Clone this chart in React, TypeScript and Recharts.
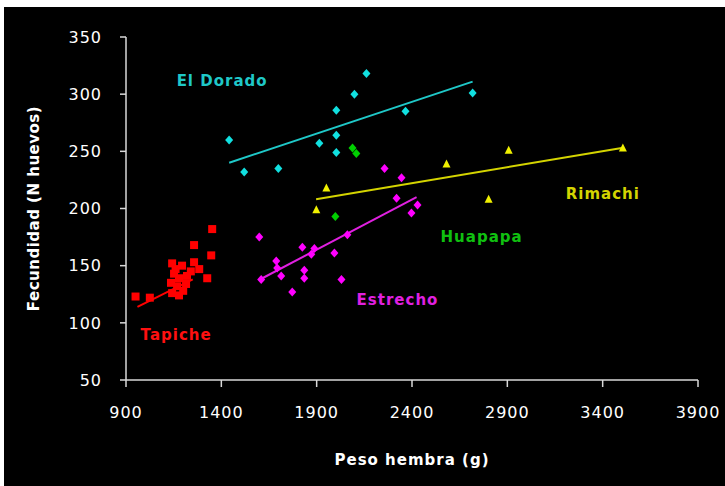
import React from 'react';
import {
  ScatterChart,
  Scatter,
  XAxis,
  YAxis,
  ReferenceLine,
  ReferenceDot,
  Label,
} from 'recharts';

// female weight (g) vs fecundity (no. of eggs), per locality
const tapiche = [
  { x: 950, y: 123 }, { x: 1025, y: 122 }, { x: 1142, y: 152 }, { x: 1194, y: 150 },
  { x: 1257, y: 153 }, { x: 1284, y: 147 }, { x: 1152, y: 143 }, { x: 1178, y: 139 },
  { x: 1220, y: 141 }, { x: 1326, y: 139 }, { x: 1136, y: 135 }, { x: 1168, y: 132 },
  { x: 1215, y: 134 }, { x: 1142, y: 126 }, { x: 1178, y: 124 }, { x: 1257, y: 168 },
  { x: 1347, y: 159 }, { x: 1352, y: 182 }, { x: 1160, y: 147 }, { x: 1240, y: 145 },
  { x: 1200, y: 128 },
];
const estrecho = [
  { x: 1599, y: 175 }, { x: 1609, y: 138 }, { x: 1688, y: 154 }, { x: 1693, y: 148 },
  { x: 1714, y: 141 }, { x: 1772, y: 127 }, { x: 1825, y: 166 }, { x: 1835, y: 146 },
  { x: 1835, y: 139 }, { x: 1872, y: 160 }, { x: 1888, y: 165 }, { x: 1993, y: 161 },
  { x: 2030, y: 138 }, { x: 2061, y: 177 }, { x: 2256, y: 235 }, { x: 2345, y: 227 },
  { x: 2319, y: 209 }, { x: 2429, y: 203 }, { x: 2397, y: 196 },
];
const elDorado = [
  { x: 1441, y: 260 }, { x: 1520, y: 232 }, { x: 1699, y: 235 }, { x: 1914, y: 257 },
  { x: 2003, y: 264 }, { x: 2003, y: 249 }, { x: 2003, y: 286 }, { x: 2098, y: 300 },
  { x: 2161, y: 318 }, { x: 2366, y: 285 }, { x: 2718, y: 301 },
];
const huapapa = [
  { x: 2088, y: 253 }, { x: 2108, y: 248 }, { x: 1998, y: 193 },
];
const rimachi = [
  { x: 1898, y: 199 }, { x: 1951, y: 218 }, { x: 2581, y: 239 }, { x: 2802, y: 208 },
  { x: 2907, y: 251 }, { x: 3506, y: 253 },
];

// trend lines: [start, end]
const tapicheTrend = [{ x: 960, y: 114 }, { x: 1250, y: 138 }];
const estrechoTrend = [{ x: 1615, y: 139 }, { x: 2424, y: 210 }];
const elDoradoTrend = [{ x: 1441, y: 240 }, { x: 2718, y: 311 }];
const rimachiTrend = [{ x: 1897, y: 208 }, { x: 3500, y: 253 }];

const xTicks = [900, 1400, 1900, 2400, 2900, 3400, 3900];
const yTicks = [50, 100, 150, 200, 250, 300, 350];

const groupLabels = [
  { name: 'El Dorado', x: 1404, y: 312, color: '#1fc8c8' },
  { name: 'Rimachi', x: 3401, y: 213, color: '#d4d400' },
  { name: 'Huapapa', x: 2765, y: 175, color: '#10c010' },
  { name: 'Estrecho', x: 2324, y: 120, color: '#e020e0' },
  { name: 'Tapiche', x: 1163, y: 90, color: '#ff1010' },
];

const FONT = '"DejaVu Sans", sans-serif';

const Square = (color: string) => (props: any) => (
  <rect x={props.cx - 4} y={props.cy - 4} width={8} height={8} fill={color} />
);
const Diamond = (color: string) => (props: any) => {
  const { cx, cy } = props;
  return (
    <polygon
      points={`${cx},${cy - 4.5} ${cx + 4},${cy} ${cx},${cy + 4.5} ${cx - 4},${cy}`}
      fill={color}
    />
  );
};
const Triangle = (color: string) => (props: any) => {
  const { cx, cy } = props;
  return (
    <polygon points={`${cx},${cy - 4.5} ${cx + 4},${cy + 3.5} ${cx - 4},${cy + 3.5}`} fill={color} />
  );
};

export default function App() {
  const tick = { fill: '#ffffff', fontSize: 16, fontFamily: FONT, letterSpacing: 1 };
  return (
    <div style={{ position: 'fixed', left: 0, top: 0, width: 725, height: 486, background: '#fff' }}>
      <div style={{ position: 'absolute', left: 4, top: 7, width: 721, height: 479, background: '#000' }}>
        <ScatterChart width={721} height={479} margin={{ top: 30, right: 27, bottom: 0, left: 0 }}>
          <XAxis
            type="number"
            dataKey="x"
            domain={[900, 3900]}
            ticks={xTicks}
            interval={0}
            height={106}
            stroke="#d8d8d8"
            strokeWidth={1.5}
            tickSize={7}
            tickMargin={20}
            tick={tick}
          >
            <Label
              content={({ viewBox }: any) => (
                <text
                  x={viewBox.x + viewBox.width / 2}
                  y={453}
                  fill="#ffffff"
                  fontSize={15}
                  fontWeight="bold"
                  fontFamily={FONT}
                  letterSpacing={1}
                  textAnchor="middle"
                  dominantBaseline="middle"
                >
                  Peso hembra (g)
                </text>
              )}
            />
          </XAxis>
          <YAxis
            type="number"
            dataKey="y"
            domain={[50, 350]}
            ticks={yTicks}
            interval={0}
            width={122}
            stroke="#d8d8d8"
            strokeWidth={1.5}
            tickSize={6}
            tickMargin={18}
            tick={tick}
          >
            <Label
              content={({ viewBox }: any) => {
                const cy = viewBox.y + viewBox.height / 2;
                return (
                  <text
                    x={30}
                    y={cy}
                    transform={`rotate(-90 30 ${cy})`}
                    fill="#ffffff"
                    fontSize={15}
                    fontWeight="bold"
                    fontFamily={FONT}
                    letterSpacing={0.5}
                    textAnchor="middle"
                    dominantBaseline="middle"
                  >
                    Fecundidad (N huevos)
                  </text>
                );
              }}
            />
          </YAxis>

          <ReferenceLine segment={tapicheTrend} stroke="#ff0000" strokeWidth={2} />
          <ReferenceLine segment={estrechoTrend} stroke="#e020e0" strokeWidth={2} />
          <ReferenceLine segment={elDoradoTrend} stroke="#1fc8c8" strokeWidth={2} />
          <ReferenceLine segment={rimachiTrend} stroke="#d4d400" strokeWidth={2} />

          <Scatter data={tapiche} shape={Square('#ff0000')} isAnimationActive={false} />
          <Scatter data={estrecho} shape={Diamond('#ff00ff')} isAnimationActive={false} />
          <Scatter data={elDorado} shape={Diamond('#11e0e0')} isAnimationActive={false} />
          <Scatter data={huapapa} shape={Diamond('#00d000')} isAnimationActive={false} />
          <Scatter data={rimachi} shape={Triangle('#f0f000')} isAnimationActive={false} />

          {groupLabels.map((g) => (
            <ReferenceDot
              key={g.name}
              x={g.x}
              y={g.y}
              r={0}
              stroke="none"
              label={{
                value: g.name,
                position: 'center',
                fill: g.color,
                fontSize: 15,
                fontWeight: 'bold',
                fontFamily: FONT,
                letterSpacing: 1,
              }}
            />
          ))}
        </ScatterChart>
      </div>
    </div>
  );
}
